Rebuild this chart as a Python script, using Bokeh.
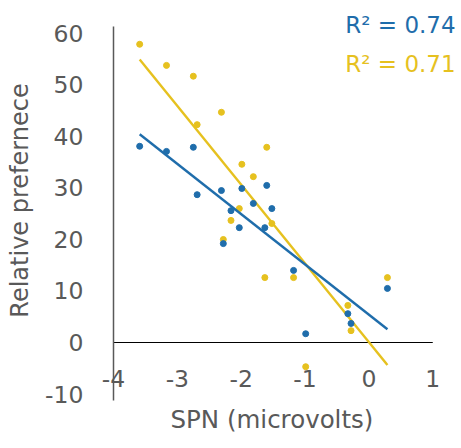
import numpy as np
from bokeh.plotting import figure
from bokeh.models import Range1d, Label, FixedTicker, CustomJSTickFormatter
from bokeh.embed import file_html
from bokeh.resources import INLINE

# SPN (microvolts) shared by both series
spn = [-3.59, -3.17, -2.75, -2.69, -2.31, -1.99, -1.60, -1.81, -1.52,
       -2.16, -2.03, -1.63, -2.28, -1.18, 0.29, -0.33, -0.28, -0.99]
blue_pref = [38.1, 37.1, 37.9, 28.7, 29.5, 29.9, 30.5, 27.0, 26.0,
             25.6, 22.3, 22.3, 19.2, 14.0, 10.5, 5.6, 3.7, 1.7]
yellow_pref = [57.9, 53.8, 51.7, 42.3, 44.7, 34.6, 37.9, 32.2, 23.1,
               23.7, 26.0, 12.6, 20.0, 12.6, 12.6, 7.2, 2.3, -4.7]
x_ticks = [-4, -3, -2, -1, 0, 1]
y_ticks = [-10, 0, 10, 20, 30, 40, 50, 60]
r2_labels = ["R\u00b2 = 0.74", "R\u00b2 = 0.71"]

BLUE = "#1f6dab"
YELLOW = "#e6c11f"
GREY = "#595959"
FONT = "DejaVu Sans"
plain = CustomJSTickFormatter(code="return String(tick);")

p = figure(width=461, height=448, output_backend="svg", toolbar_location=None,
           x_range=Range1d(-4, 1.45), y_range=Range1d(-11.26, 66.4),
           min_border_left=113, min_border_right=0, min_border_top=0,
           min_border_bottom=48)
p.outline_line_color = None
p.grid.visible = False

# y axis
p.yaxis.ticker = FixedTicker(ticks=y_ticks)
p.yaxis.formatter = plain
p.yaxis.bounds = (-11.26, 61.4)
p.yaxis.major_tick_line_color = None
p.yaxis.minor_tick_line_color = None
p.yaxis.major_tick_out = 0
p.yaxis.axis_line_color = GREY
p.yaxis.axis_line_width = 1.5
p.yaxis.major_label_text_font = FONT
p.yaxis.major_label_text_font_size = "23.5px"
p.yaxis.major_label_text_color = GREY
p.yaxis.major_label_standoff = 30
p.yaxis.axis_label = "Relative prefernece"
p.yaxis.axis_label_text_font = FONT
p.yaxis.axis_label_text_font_style = "normal"
p.yaxis.axis_label_text_font_size = "24px"
p.yaxis.axis_label_text_color = GREY
p.yaxis.axis_label_standoff = 8

# x axis
p.xaxis.ticker = FixedTicker(ticks=x_ticks)
p.xaxis.formatter = plain
p.xaxis.major_tick_line_color = None
p.xaxis.minor_tick_line_color = None
p.xaxis.major_tick_out = 0
p.xaxis.axis_line_color = None
p.xaxis.major_label_text_font = FONT
p.xaxis.major_label_text_font_size = "23.5px"
p.xaxis.major_label_text_color = GREY
p.xaxis.major_label_standoff = -31
# trailing no-break spaces centre the title under the tick span (-4..1)
p.xaxis.axis_label = "SPN (microvolts)" + "\u00a0" * 4
p.xaxis.axis_label_text_font = FONT
p.xaxis.axis_label_text_font_style = "normal"
p.xaxis.axis_label_text_font_size = "24.5px"
p.xaxis.axis_label_text_color = GREY
p.xaxis.axis_label_standoff = 15

# zero line across the tick span
p.segment(x0=[x_ticks[0]], y0=[0], x1=[x_ticks[-1]], y1=[0],
          line_color="black", line_width=1)

xs = np.array(spn)
for ys, col in ((yellow_pref, YELLOW), (blue_pref, BLUE)):
    m, b = np.polyfit(xs, np.array(ys), 1)
    lx = np.array([xs.min(), xs.max()])
    p.line(lx, m * lx + b, line_color=col, line_width=2.4)
    p.scatter(spn, ys, size=6, fill_color=col, line_color=col)

p.add_layout(Label(x=-0.37, y=61.7, text=r2_labels[0], text_color=BLUE,
                   text_font=FONT, text_font_size="23px", text_baseline="middle"))
p.add_layout(Label(x=-0.37, y=54.0, text=r2_labels[1], text_color=YELLOW,
                   text_font=FONT, text_font_size="23px", text_baseline="middle"))

open("out.html", "w").write(file_html(p, INLINE))
